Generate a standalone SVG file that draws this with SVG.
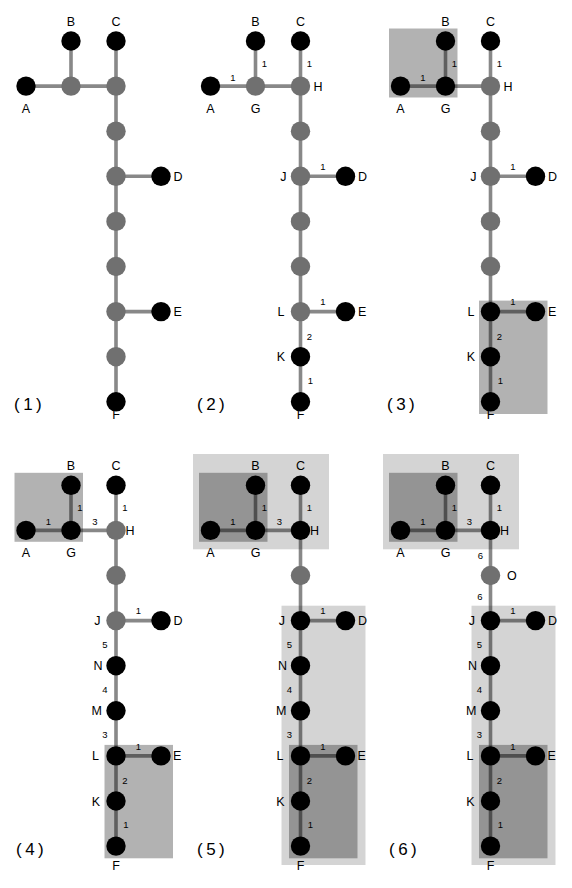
<svg xmlns="http://www.w3.org/2000/svg" width="572" height="888" viewBox="0 0 572 888">
<style>
.bg{fill:#fff}
.edges line{stroke:#888;stroke-width:3.6;fill:none}
.nb{fill:#000}
.ng{fill:#707070}
text{font-family:"Liberation Sans",Arial,sans-serif;fill:#000}
.l{font-size:12.5px}
.c{text-anchor:middle}
.s{text-anchor:start}
.en{text-anchor:end}
.w{font-size:9.5px;text-anchor:middle}
.pl{font-size:17px;letter-spacing:3.5px}
.box{fill:#000;fill-opacity:0.3}
.obox{fill:#000;fill-opacity:0.17}
</style>
<rect class="bg" x="0" y="0" width="572" height="888"/>

<!-- Panel 1 -->
<g id="panel1" transform="translate(116,41)">
<g id="p1-connectors" class="edges">
<line x1="-90" y1="45.1" x2="-45" y2="45.1"/><line x1="-45" y1="0" x2="-45" y2="45.1"/><line x1="-45" y1="45.1" x2="0" y2="45.1"/><line x1="0" y1="0" x2="0" y2="45.1"/><line x1="0" y1="45.1" x2="0" y2="90.2"/><line x1="0" y1="90.2" x2="0" y2="135.3"/><line x1="0" y1="135.3" x2="45" y2="135.3"/><line x1="0" y1="135.3" x2="0" y2="180.4"/><line x1="0" y1="180.4" x2="0" y2="225.5"/><line x1="0" y1="225.5" x2="0" y2="270.6"/><line x1="0" y1="270.6" x2="45" y2="270.6"/><line x1="0" y1="270.6" x2="0" y2="315.7"/><line x1="0" y1="315.7" x2="0" y2="360.8"/>
</g>
<g id="p1-A"><circle class="nb" cx="-90" cy="45.1" r="9.7"/><text class="l c" x="-90" y="71.6">A</text></g>
<g id="p1-B"><circle class="nb" cx="-45" cy="0" r="9.7"/><text class="l c" x="-45" y="-15">B</text></g>
<g id="p1-C"><circle class="nb" cx="0" cy="0" r="9.7"/><text class="l c" x="0" y="-15">C</text></g>
<g id="p1-G"><circle class="ng" cx="-45" cy="45.1" r="9.7"/></g>
<g id="p1-H"><circle class="ng" cx="0" cy="45.1" r="9.7"/></g>
<g id="p1-O"><circle class="ng" cx="0" cy="90.2" r="9.7"/></g>
<g id="p1-J"><circle class="ng" cx="0" cy="135.3" r="9.7"/></g>
<g id="p1-D"><circle class="nb" cx="45" cy="135.3" r="9.7"/><text class="l s" x="57.5" y="139.9">D</text></g>
<g id="p1-N"><circle class="ng" cx="0" cy="180.4" r="9.7"/></g>
<g id="p1-M"><circle class="ng" cx="0" cy="225.5" r="9.7"/></g>
<g id="p1-L"><circle class="ng" cx="0" cy="270.6" r="9.7"/></g>
<g id="p1-E"><circle class="nb" cx="45" cy="270.6" r="9.7"/><text class="l s" x="57.5" y="275.2">E</text></g>
<g id="p1-K"><circle class="ng" cx="0" cy="315.7" r="9.7"/></g>
<g id="p1-F"><circle class="nb" cx="0" cy="360.8" r="9.7"/><text class="l c" x="0" y="377.8">F</text></g>
</g>
<text id="label1" class="pl" x="14" y="409.5">(1)</text>

<!-- Panel 2 -->
<g id="panel2" transform="translate(300.5,41)">
<g id="p2-connectors" class="edges">
<line x1="-90" y1="45.1" x2="-45" y2="45.1"/><line x1="-45" y1="0" x2="-45" y2="45.1"/><line x1="-45" y1="45.1" x2="0" y2="45.1"/><line x1="0" y1="0" x2="0" y2="45.1"/><line x1="0" y1="45.1" x2="0" y2="90.2"/><line x1="0" y1="90.2" x2="0" y2="135.3"/><line x1="0" y1="135.3" x2="45" y2="135.3"/><line x1="0" y1="135.3" x2="0" y2="180.4"/><line x1="0" y1="180.4" x2="0" y2="225.5"/><line x1="0" y1="225.5" x2="0" y2="270.6"/><line x1="0" y1="270.6" x2="45" y2="270.6"/><line x1="0" y1="270.6" x2="0" y2="315.7"/><line x1="0" y1="315.7" x2="0" y2="360.8"/>
</g>
<g id="p2-weights">
<text class="w" x="-67.5" y="39.5">1</text><text class="w" x="-36" y="26">1</text><text class="w" x="9" y="26">1</text><text class="w" x="22.5" y="128.8">1</text><text class="w" x="22.5" y="264">1</text><text class="w" x="9" y="299">2</text><text class="w" x="10" y="342.5">1</text>
</g>
<g id="p2-A"><circle class="nb" cx="-90" cy="45.1" r="9.7"/><text class="l c" x="-90" y="71.6">A</text></g>
<g id="p2-B"><circle class="nb" cx="-45" cy="0" r="9.7"/><text class="l c" x="-45" y="-15">B</text></g>
<g id="p2-C"><circle class="nb" cx="0" cy="0" r="9.7"/><text class="l c" x="0" y="-15">C</text></g>
<g id="p2-G"><circle class="ng" cx="-45" cy="45.1" r="9.7"/><text class="l c" x="-45" y="71.6">G</text></g>
<g id="p2-H"><circle class="ng" cx="0" cy="45.1" r="9.7"/><text class="l s" x="13" y="49.7">H</text></g>
<g id="p2-O"><circle class="ng" cx="0" cy="90.2" r="9.7"/></g>
<g id="p2-J"><circle class="ng" cx="0" cy="135.3" r="9.7"/><text class="l en" x="-14" y="139.9">J</text></g>
<g id="p2-D"><circle class="nb" cx="45" cy="135.3" r="9.7"/><text class="l s" x="57.5" y="139.9">D</text></g>
<g id="p2-N"><circle class="ng" cx="0" cy="180.4" r="9.7"/></g>
<g id="p2-M"><circle class="ng" cx="0" cy="225.5" r="9.7"/></g>
<g id="p2-L"><circle class="ng" cx="0" cy="270.6" r="9.7"/><text class="l en" x="-16" y="275.2">L</text></g>
<g id="p2-E"><circle class="nb" cx="45" cy="270.6" r="9.7"/><text class="l s" x="57.5" y="275.2">E</text></g>
<g id="p2-K"><circle class="nb" cx="0" cy="315.7" r="9.7"/><text class="l en" x="-15.5" y="320.3">K</text></g>
<g id="p2-F"><circle class="nb" cx="0" cy="360.8" r="9.7"/><text class="l c" x="0" y="377.8">F</text></g>
</g>
<text id="label2" class="pl" x="197" y="409.5">(2)</text>

<!-- Panel 3 -->
<g id="panel3" transform="translate(490.5,41)">
<g id="p3-connectors" class="edges">
<line x1="-90" y1="45.1" x2="-45" y2="45.1"/><line x1="-45" y1="0" x2="-45" y2="45.1"/><line x1="-45" y1="45.1" x2="0" y2="45.1"/><line x1="0" y1="0" x2="0" y2="45.1"/><line x1="0" y1="45.1" x2="0" y2="90.2"/><line x1="0" y1="90.2" x2="0" y2="135.3"/><line x1="0" y1="135.3" x2="45" y2="135.3"/><line x1="0" y1="135.3" x2="0" y2="180.4"/><line x1="0" y1="180.4" x2="0" y2="225.5"/><line x1="0" y1="225.5" x2="0" y2="270.6"/><line x1="0" y1="270.6" x2="45" y2="270.6"/><line x1="0" y1="270.6" x2="0" y2="315.7"/><line x1="0" y1="315.7" x2="0" y2="360.8"/>
</g>
<g id="p3-clusters">
<rect class="box" x="-101.5" y="-12.5" width="68.5" height="69"/>
<rect class="box" x="-11.5" y="259.6" width="68.5" height="113.4"/>
</g>
<g id="p3-weights">
<text class="w" x="-67.5" y="39.5">1</text><text class="w" x="-36" y="26">1</text><text class="w" x="9" y="26">1</text><text class="w" x="22.5" y="128.8">1</text><text class="w" x="22.5" y="264">1</text><text class="w" x="9" y="299">2</text><text class="w" x="10" y="342.5">1</text>
</g>
<g id="p3-A"><circle class="nb" cx="-90" cy="45.1" r="9.7"/><text class="l c" x="-90" y="71.6">A</text></g>
<g id="p3-B"><circle class="nb" cx="-45" cy="0" r="9.7"/><text class="l c" x="-45" y="-15">B</text></g>
<g id="p3-C"><circle class="nb" cx="0" cy="0" r="9.7"/><text class="l c" x="0" y="-15">C</text></g>
<g id="p3-G"><circle class="nb" cx="-45" cy="45.1" r="9.7"/><text class="l c" x="-45" y="71.6">G</text></g>
<g id="p3-H"><circle class="ng" cx="0" cy="45.1" r="9.7"/><text class="l s" x="13" y="49.7">H</text></g>
<g id="p3-O"><circle class="ng" cx="0" cy="90.2" r="9.7"/></g>
<g id="p3-J"><circle class="ng" cx="0" cy="135.3" r="9.7"/><text class="l en" x="-14" y="139.9">J</text></g>
<g id="p3-D"><circle class="nb" cx="45" cy="135.3" r="9.7"/><text class="l s" x="57.5" y="139.9">D</text></g>
<g id="p3-N"><circle class="ng" cx="0" cy="180.4" r="9.7"/></g>
<g id="p3-M"><circle class="ng" cx="0" cy="225.5" r="9.7"/></g>
<g id="p3-L"><circle class="nb" cx="0" cy="270.6" r="9.7"/><text class="l en" x="-16" y="275.2">L</text></g>
<g id="p3-E"><circle class="nb" cx="45" cy="270.6" r="9.7"/><text class="l s" x="57.5" y="275.2">E</text></g>
<g id="p3-K"><circle class="nb" cx="0" cy="315.7" r="9.7"/><text class="l en" x="-15.5" y="320.3">K</text></g>
<g id="p3-F"><circle class="nb" cx="0" cy="360.8" r="9.7"/><text class="l c" x="0" y="377.8">F</text></g>
</g>
<text id="label3" class="pl" x="387" y="409.5">(3)</text>

<!-- Panel 4 -->
<g id="panel4" transform="translate(116,485.3)">
<g id="p4-connectors" class="edges">
<line x1="-90" y1="45.1" x2="-45" y2="45.1"/><line x1="-45" y1="0" x2="-45" y2="45.1"/><line x1="-45" y1="45.1" x2="0" y2="45.1"/><line x1="0" y1="0" x2="0" y2="45.1"/><line x1="0" y1="45.1" x2="0" y2="90.2"/><line x1="0" y1="90.2" x2="0" y2="135.3"/><line x1="0" y1="135.3" x2="45" y2="135.3"/><line x1="0" y1="135.3" x2="0" y2="180.4"/><line x1="0" y1="180.4" x2="0" y2="225.5"/><line x1="0" y1="225.5" x2="0" y2="270.6"/><line x1="0" y1="270.6" x2="45" y2="270.6"/><line x1="0" y1="270.6" x2="0" y2="315.7"/><line x1="0" y1="315.7" x2="0" y2="360.8"/>
</g>
<g id="p4-clusters">
<rect class="box" x="-101.5" y="-12.5" width="68.5" height="69"/>
<rect class="box" x="-11.5" y="259.6" width="68.5" height="113.4"/>
</g>
<g id="p4-weights">
<text class="w" x="-67.5" y="39.5">1</text><text class="w" x="-36" y="26">1</text><text class="w" x="9" y="26">1</text><text class="w" x="-21" y="39.6">3</text><text class="w" x="22.5" y="128.8">1</text><text class="w" x="-11" y="162.3">5</text><text class="w" x="-11" y="207.3">4</text><text class="w" x="-11" y="252.3">3</text><text class="w" x="22.5" y="264.5">1</text><text class="w" x="9" y="299">2</text><text class="w" x="10" y="342.5">1</text>
</g>
<g id="p4-A"><circle class="nb" cx="-90" cy="45.1" r="9.7"/><text class="l c" x="-90" y="71.6">A</text></g>
<g id="p4-B"><circle class="nb" cx="-45" cy="0" r="9.7"/><text class="l c" x="-45" y="-15">B</text></g>
<g id="p4-C"><circle class="nb" cx="0" cy="0" r="9.7"/><text class="l c" x="0" y="-15">C</text></g>
<g id="p4-G"><circle class="nb" cx="-45" cy="45.1" r="9.7"/><text class="l c" x="-45" y="71.6">G</text></g>
<g id="p4-H"><circle class="ng" cx="0" cy="45.1" r="9.7"/><text class="l s" x="9.5" y="49.7">H</text></g>
<g id="p4-O"><circle class="ng" cx="0" cy="90.2" r="9.7"/></g>
<g id="p4-J"><circle class="ng" cx="0" cy="135.3" r="9.7"/><text class="l en" x="-15.5" y="139.9">J</text></g>
<g id="p4-D"><circle class="nb" cx="45" cy="135.3" r="9.7"/><text class="l s" x="57.5" y="139.9">D</text></g>
<g id="p4-N"><circle class="nb" cx="0" cy="180.4" r="9.7"/><text class="l en" x="-13.5" y="185">N</text></g>
<g id="p4-M"><circle class="nb" cx="0" cy="225.5" r="9.7"/><text class="l en" x="-14" y="230.1">M</text></g>
<g id="p4-L"><circle class="nb" cx="0" cy="270.6" r="9.7"/><text class="l en" x="-17" y="275.2">L</text></g>
<g id="p4-E"><circle class="nb" cx="45" cy="270.6" r="9.7"/><text class="l s" x="57" y="275.2">E</text></g>
<g id="p4-K"><circle class="nb" cx="0" cy="315.7" r="9.7"/><text class="l en" x="-16" y="320.3">K</text></g>
<g id="p4-F"><circle class="nb" cx="0" cy="360.8" r="9.7"/><text class="l c" x="0" y="384.8">F</text></g>
</g>
<text id="label4" class="pl" x="16" y="854.5">(4)</text>

<!-- Panel 5 -->
<g id="panel5" transform="translate(300.5,485.3)">
<g id="p5-connectors" class="edges">
<line x1="-90" y1="45.1" x2="-45" y2="45.1"/><line x1="-45" y1="0" x2="-45" y2="45.1"/><line x1="-45" y1="45.1" x2="0" y2="45.1"/><line x1="0" y1="0" x2="0" y2="45.1"/><line x1="0" y1="45.1" x2="0" y2="90.2"/><line x1="0" y1="90.2" x2="0" y2="135.3"/><line x1="0" y1="135.3" x2="45" y2="135.3"/><line x1="0" y1="135.3" x2="0" y2="180.4"/><line x1="0" y1="180.4" x2="0" y2="225.5"/><line x1="0" y1="225.5" x2="0" y2="270.6"/><line x1="0" y1="270.6" x2="45" y2="270.6"/><line x1="0" y1="270.6" x2="0" y2="315.7"/><line x1="0" y1="315.7" x2="0" y2="360.8"/>
</g>
<g id="p5-clusters">
<rect class="obox" x="-107.5" y="-31.3" width="136" height="95.3"/>
<rect class="obox" x="-19" y="120.4" width="84" height="259.3"/>
<rect class="box" x="-101.5" y="-12.5" width="68.5" height="69"/>
<rect class="box" x="-11.5" y="259.6" width="68.5" height="113.4"/>
</g>
<g id="p5-weights">
<text class="w" x="-67.5" y="39.5">1</text><text class="w" x="-36" y="26">1</text><text class="w" x="9" y="26">1</text><text class="w" x="-21" y="39.6">3</text><text class="w" x="22.5" y="128.8">1</text><text class="w" x="-11" y="162.3">5</text><text class="w" x="-11" y="207.3">4</text><text class="w" x="-11" y="252.3">3</text><text class="w" x="22.5" y="264.5">1</text><text class="w" x="9" y="299">2</text><text class="w" x="10" y="342.5">1</text>
</g>
<g id="p5-A"><circle class="nb" cx="-90" cy="45.1" r="9.7"/><text class="l c" x="-90" y="71.6">A</text></g>
<g id="p5-B"><circle class="nb" cx="-45" cy="0" r="9.7"/><text class="l c" x="-45" y="-15">B</text></g>
<g id="p5-C"><circle class="nb" cx="0" cy="0" r="9.7"/><text class="l c" x="0" y="-15">C</text></g>
<g id="p5-G"><circle class="nb" cx="-45" cy="45.1" r="9.7"/><text class="l c" x="-45" y="71.6">G</text></g>
<g id="p5-H"><circle class="nb" cx="0" cy="45.1" r="9.7"/><text class="l s" x="9.5" y="49.7">H</text></g>
<g id="p5-O"><circle class="ng" cx="0" cy="90.2" r="9.7"/></g>
<g id="p5-J"><circle class="nb" cx="0" cy="135.3" r="9.7"/><text class="l en" x="-15.5" y="139.9">J</text></g>
<g id="p5-D"><circle class="nb" cx="45" cy="135.3" r="9.7"/><text class="l s" x="57.5" y="139.9">D</text></g>
<g id="p5-N"><circle class="nb" cx="0" cy="180.4" r="9.7"/><text class="l en" x="-13.5" y="185">N</text></g>
<g id="p5-M"><circle class="nb" cx="0" cy="225.5" r="9.7"/><text class="l en" x="-14" y="230.1">M</text></g>
<g id="p5-L"><circle class="nb" cx="0" cy="270.6" r="9.7"/><text class="l en" x="-17" y="275.2">L</text></g>
<g id="p5-E"><circle class="nb" cx="45" cy="270.6" r="9.7"/><text class="l s" x="57" y="275.2">E</text></g>
<g id="p5-K"><circle class="nb" cx="0" cy="315.7" r="9.7"/><text class="l en" x="-16" y="320.3">K</text></g>
<g id="p5-F"><circle class="nb" cx="0" cy="360.8" r="9.7"/><text class="l c" x="0" y="384.8">F</text></g>
</g>
<text id="label5" class="pl" x="197" y="854.5">(5)</text>

<!-- Panel 6 -->
<g id="panel6" transform="translate(490.5,485.3)">
<g id="p6-connectors" class="edges">
<line x1="-90" y1="45.1" x2="-45" y2="45.1"/><line x1="-45" y1="0" x2="-45" y2="45.1"/><line x1="-45" y1="45.1" x2="0" y2="45.1"/><line x1="0" y1="0" x2="0" y2="45.1"/><line x1="0" y1="45.1" x2="0" y2="90.2"/><line x1="0" y1="90.2" x2="0" y2="135.3"/><line x1="0" y1="135.3" x2="45" y2="135.3"/><line x1="0" y1="135.3" x2="0" y2="180.4"/><line x1="0" y1="180.4" x2="0" y2="225.5"/><line x1="0" y1="225.5" x2="0" y2="270.6"/><line x1="0" y1="270.6" x2="45" y2="270.6"/><line x1="0" y1="270.6" x2="0" y2="315.7"/><line x1="0" y1="315.7" x2="0" y2="360.8"/>
</g>
<g id="p6-clusters">
<rect class="obox" x="-107.5" y="-31.3" width="136" height="95.3"/>
<rect class="obox" x="-19" y="120.4" width="84" height="259.3"/>
<rect class="box" x="-101.5" y="-12.5" width="68.5" height="69"/>
<rect class="box" x="-11.5" y="259.6" width="68.5" height="113.4"/>
</g>
<g id="p6-weights">
<text class="w" x="-67.5" y="39.5">1</text><text class="w" x="-36" y="26">1</text><text class="w" x="9" y="26">1</text><text class="w" x="-21" y="39.6">3</text><text class="w" x="-10" y="74">6</text><text class="w" x="-10.5" y="115">6</text><text class="w" x="22.5" y="128.8">1</text><text class="w" x="-11" y="162.3">5</text><text class="w" x="-11" y="207.3">4</text><text class="w" x="-11" y="252.3">3</text><text class="w" x="22.5" y="264.5">1</text><text class="w" x="9" y="299">2</text><text class="w" x="10" y="342.5">1</text>
</g>
<g id="p6-A"><circle class="nb" cx="-90" cy="45.1" r="9.7"/><text class="l c" x="-90" y="71.6">A</text></g>
<g id="p6-B"><circle class="nb" cx="-45" cy="0" r="9.7"/><text class="l c" x="-45" y="-15">B</text></g>
<g id="p6-C"><circle class="nb" cx="0" cy="0" r="9.7"/><text class="l c" x="0" y="-15">C</text></g>
<g id="p6-G"><circle class="nb" cx="-45" cy="45.1" r="9.7"/><text class="l c" x="-45" y="71.6">G</text></g>
<g id="p6-H"><circle class="nb" cx="0" cy="45.1" r="9.7"/><text class="l s" x="9.5" y="49.7">H</text></g>
<g id="p6-O"><circle class="ng" cx="0" cy="90.2" r="9.7"/><text class="l s" x="16.5" y="95">O</text></g>
<g id="p6-J"><circle class="nb" cx="0" cy="135.3" r="9.7"/><text class="l en" x="-15.5" y="139.9">J</text></g>
<g id="p6-D"><circle class="nb" cx="45" cy="135.3" r="9.7"/><text class="l s" x="57.5" y="139.9">D</text></g>
<g id="p6-N"><circle class="nb" cx="0" cy="180.4" r="9.7"/><text class="l en" x="-13.5" y="185">N</text></g>
<g id="p6-M"><circle class="nb" cx="0" cy="225.5" r="9.7"/><text class="l en" x="-14" y="230.1">M</text></g>
<g id="p6-L"><circle class="nb" cx="0" cy="270.6" r="9.7"/><text class="l en" x="-17" y="275.2">L</text></g>
<g id="p6-E"><circle class="nb" cx="45" cy="270.6" r="9.7"/><text class="l s" x="57" y="275.2">E</text></g>
<g id="p6-K"><circle class="nb" cx="0" cy="315.7" r="9.7"/><text class="l en" x="-16" y="320.3">K</text></g>
<g id="p6-F"><circle class="nb" cx="0" cy="360.8" r="9.7"/><text class="l c" x="0" y="384.8">F</text></g>
</g>
<text id="label6" class="pl" x="389" y="854.5">(6)</text>
</svg>
